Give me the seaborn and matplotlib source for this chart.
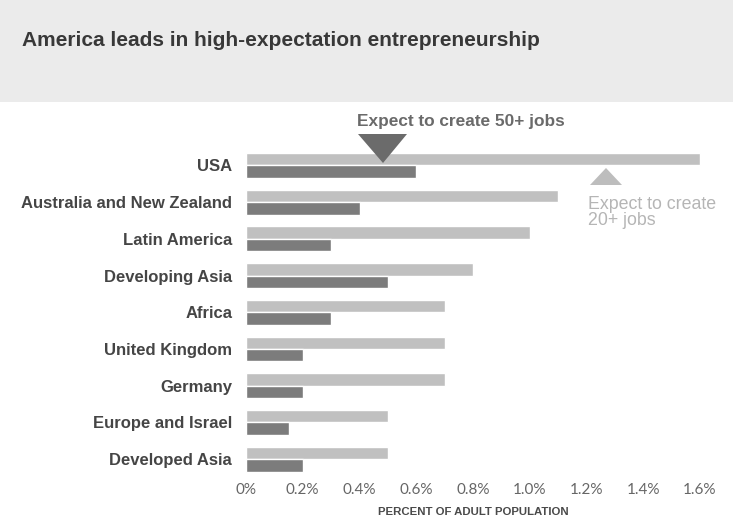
import matplotlib
matplotlib.use("Agg")
import matplotlib.pyplot as plt
from matplotlib.patches import Rectangle, Polygon
import seaborn as sns
import pandas as pd

regions = ["USA", "Australia and New Zealand", "Latin America", "Developing Asia",
           "Africa", "United Kingdom", "Germany", "Europe and Israel", "Developed Asia"]
jobs20 = [1.6, 1.1, 1.0, 0.8, 0.7, 0.7, 0.7, 0.5, 0.5]
jobs50 = [0.6, 0.4, 0.3, 0.5, 0.3, 0.2, 0.2, 0.15, 0.2]
series_names = ["Expect to create 20+ jobs", "Expect to create 50+ jobs"]
xticks = [0, 0.2, 0.4, 0.6, 0.8, 1.0, 1.2, 1.4, 1.6]
xtick_labels = ["0%", "0.2%", "0.4%", "0.6%", "0.8%", "1.0%", "1.2%", "1.4%", "1.6%"]

df = pd.DataFrame({
    "region": regions * 2,
    "value": jobs20 + jobs50,
    "series": [series_names[0]] * len(regions) + [series_names[1]] * len(regions),
})

LIGHT = "#c0c0c0"
DARK = "#7c7c7c"

sns.set_theme(style="white")
plt.rcParams["font.family"] = ["Liberation Sans", "DejaVu Sans"]

W, H = 733, 518
fig = plt.figure(figsize=(W / 100, H / 100), dpi=100)

# title band
fig.patches.append(Rectangle((0, (H - 102) / H), 1, 102 / H, transform=fig.transFigure,
                             facecolor="#ebebeb", edgecolor="none", zorder=0))
fig.text(22 / W, 1 - 40 / H, "America leads in high-expectation entrepreneurship",
         fontsize=15, fontweight="bold", color="#383838", va="center", ha="left")

# axes: 0 at x=246, 283.75 px per unit; rows 36.7 px apart, row0 center at y=165.5
x0 = 246
ppu = 283.75
xmax = 1.7
row_h = 36.7
top = 165.5 - 0.5 * row_h
bottom = top + 9 * row_h
ax = fig.add_axes([x0 / W, (H - bottom) / H, xmax * ppu / W, (bottom - top) / H])

sns.barplot(data=df, y="region", x="value", hue="series", orient="h",
            palette=[LIGHT, DARK], width=0.68, saturation=1, legend=False,
            ax=ax, order=regions, hue_order=series_names)

ax.set_xlim(0, xmax)
ax.set_ylim(8.5, -0.5)
for s in ax.spines.values():
    s.set_visible(False)
ax.set_xticks(xticks)
ax.set_xticklabels(xtick_labels, fontsize=11, color="#666666", family=["Lato", "DejaVu Sans"])
ax.tick_params(axis="x", length=0, pad=4)
ax.tick_params(axis="y", length=0, pad=10)
for lab in ax.get_yticklabels():
    lab.set_fontsize(12)
    lab.set_fontweight("bold")
    lab.set_color("#454545")
ax.set_ylabel("")
ax.set_xlabel("PERCENT OF ADULT POPULATION", fontsize=8.2, fontweight="bold",
              color="#4a4a4a")
ax.xaxis.set_label_coords((473 - x0) / (xmax * ppu), -(512 - bottom) / (bottom - top), transform=ax.transAxes)
ax.xaxis.label.set_va("center")
ax.grid(False)

def px2data(px, py):
    return ((px - x0) / ppu, (py - 165.5) / row_h)

# annotation: 50+ jobs
tri_down = Polygon([px2data(358, 134), px2data(407, 134), px2data(383, 163)],
                   closed=True, facecolor="#6b6b6b", edgecolor="none", clip_on=False, zorder=5)
ax.add_patch(tri_down)
tx, ty = px2data(461, 122)
ax.text(tx, ty, "Expect to create 50+ jobs", fontsize=12.4, fontweight="bold",
        color="#6a6a6a", ha="center", va="center", clip_on=False)

# annotation: 20+ jobs
tri_up = Polygon([px2data(590, 185), px2data(622, 185), px2data(606, 168)],
                 closed=True, facecolor="#bdbdbd", edgecolor="none", clip_on=False, zorder=5)
ax.add_patch(tri_up)
tx, ty = px2data(588, 196)
ax.text(tx, ty, "Expect to create\n20+ jobs", fontsize=12.8, color="#b5b5b5",
        ha="left", va="top", linespacing=0.92, clip_on=False)

fig.savefig("out.png", dpi=100)
